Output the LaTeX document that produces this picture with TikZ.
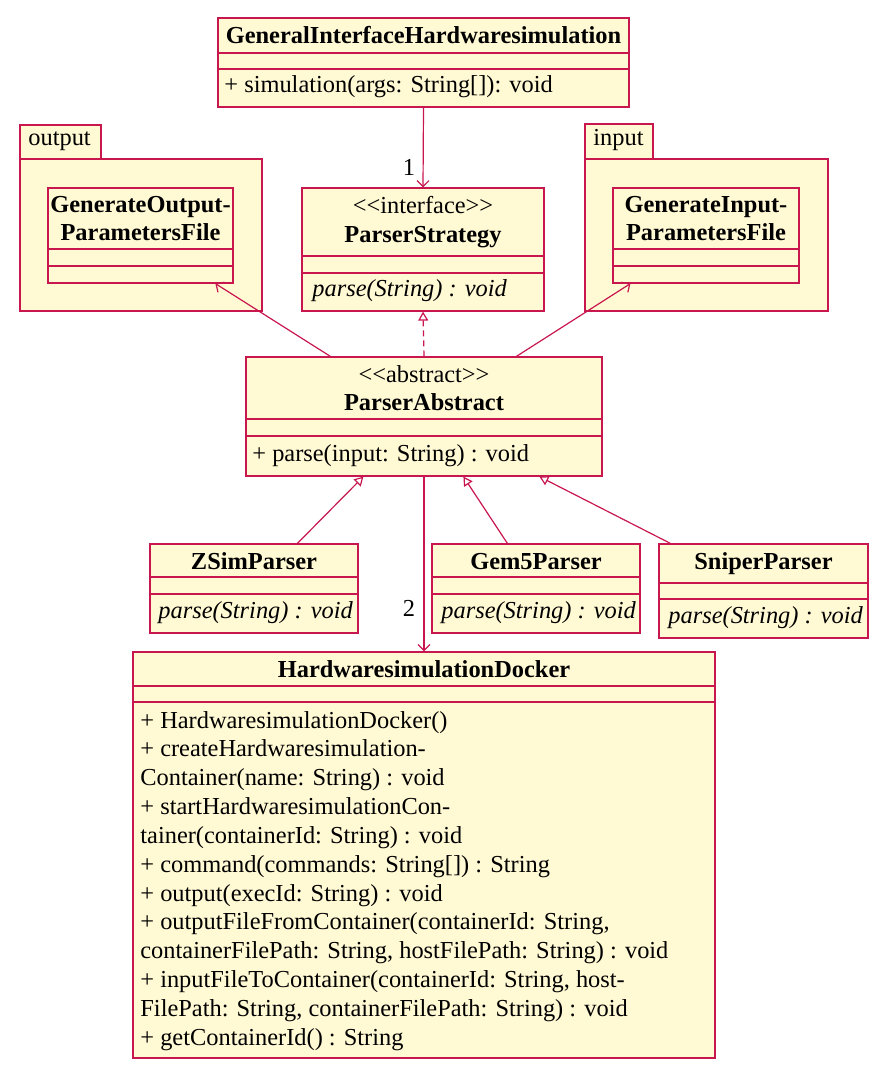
\documentclass[tikz,border=0pt]{standalone}
\usepackage{fontspec}
\setmainfont{Liberation Serif}
\usetikzlibrary{arrows.meta,fit,calc}
\definecolor{umlred}{HTML}{C8174F}
\definecolor{umlfill}{HTML}{FFF9D4}
\newcommand{\lguil}{<\kern0pt<}
\newcommand{\rguil}{>\kern0pt>}
\tikzset{
  umlbox/.style={draw=umlred, fill=umlfill, line width=0.6pt, inner sep=0pt, rectangle},
  sepline/.style={draw=umlred, line width=0.6pt},
  txt/.style={inner sep=0pt, font=\fontsize{12.2}{14}\selectfont},
  ctxt/.style={txt, anchor=base},
  ltxt/.style={txt, anchor=base west},
  btxt/.style={inner sep=0pt, anchor=base, font=\fontsize{12.2}{14}\selectfont\bfseries},
  itxt/.style={inner sep=0pt, anchor=base west, font=\fontsize{12.2}{14}\selectfont\itshape},
  assoc/.style={draw=umlred, line width=0.6pt, -{Straight Barb[length=3pt,width=6pt]}},
  gen/.style={draw=umlred, line width=0.6pt, -{Triangle[open,length=4.5pt,width=5pt,fill=white]}},
  real/.style={gen, dash pattern=on 3pt off 2pt},
}
\begin{document}
\begin{tikzpicture}[x=0.5pt,y=-0.5pt]
\useasboundingbox (0,0) rectangle (882,1081);

% GeneralInterfaceHardwaresimulation
\node[umlbox, fit={(218,18)(629,107)}] (gih) {};
\draw[sepline] (218,53) -- (629,53);
\draw[sepline] (218,69) -- (629,69);
\node[btxt] (gihT) at (423.5,44) {GeneralInterfaceHardwaresimulation};
\node[ltxt] (gihM) at (224,93) {+ simulation(args: String[]): void};

% output package
\node[umlbox, fit={(20,125)(101,159)}] (outtab) {};
\node[umlbox, fit={(20,159)(262,311)}] (outpkg) {};
\node[ltxt] (outT) at (28,146) {output};
\node[umlbox, fit={(48,188)(233,283)}] (gop) {};
\draw[sepline] (48,249) -- (233,249);
\draw[sepline] (48,266) -- (233,266);
\node[btxt] (gopT1) at (140.5,212) {GenerateOutput-};
\node[btxt] (gopT2) at (140.5,240) {ParametersFile};

% input package
\node[umlbox, fit={(585,124)(653,159)}] (intab) {};
\node[umlbox, fit={(585,159)(828,311)}] (inpkg) {};
\node[ltxt] (inT) at (593,146) {input};
\node[umlbox, fit={(613,188)(799,283)}] (gip) {};
\draw[sepline] (613,249) -- (799,249);
\draw[sepline] (613,266) -- (799,266);
\node[btxt] (gipT1) at (706,212) {GenerateInput-};
\node[btxt] (gipT2) at (706,240) {ParametersFile};

% ParserStrategy
\node[umlbox, fit={(302,188)(544,311)}] (ps) {};
\draw[sepline] (302,256) -- (544,256);
\draw[sepline] (302,273) -- (544,273);
\node[ctxt] (psS) at (423,213) {\lguil interface\rguil};
\node[btxt] (psT) at (423,242) {ParserStrategy};
\node[itxt] (psM) at (312,296) {parse(String) : void};

% ParserAbstract
\node[umlbox, fit={(246,357)(602,476)}] (pa) {};
\draw[sepline] (246,419) -- (602,419);
\draw[sepline] (246,436) -- (602,436);
\node[ctxt] (paS) at (424,382) {\lguil abstract\rguil};
\node[btxt] (paT) at (424,410) {ParserAbstract};
\node[ltxt] (paM) at (252,461) {+ parse(input: String) : void};

% ZSimParser
\node[umlbox, fit={(150,544)(358,633)}] (zs) {};
\draw[sepline] (150,577) -- (358,577);
\draw[sepline] (150,594) -- (358,594);
\node[btxt] (zsT) at (254,569) {ZSimParser};
\node[itxt] (zsM) at (158,618) {parse(String) : void};

% Gem5Parser
\node[umlbox, fit={(432,544)(640,633)}] (g5) {};
\draw[sepline] (432,577) -- (640,577);
\draw[sepline] (432,594) -- (640,594);
\node[btxt] (g5T) at (536,569) {Gem5Parser};
\node[itxt] (g5M) at (441,618) {parse(String) : void};

% SniperParser
\node[umlbox, fit={(659,544)(868,638)}] (sp) {};
\draw[sepline] (659,583) -- (868,583);
\draw[sepline] (659,599) -- (868,599);
\node[btxt] (spT) at (763.5,569) {SniperParser};
\node[itxt] (spM) at (668,623) {parse(String) : void};

% HardwaresimulationDocker
\node[umlbox, fit={(133,652)(715,1058)}] (hw) {};
\draw[sepline] (133,686) -- (715,686);
\draw[sepline] (133,702) -- (715,702);
\node[btxt] (hwT) at (424,677) {HardwaresimulationDocker};
\foreach \t [count=\i from 0] in {
  {+ HardwaresimulationDocker()},
  {+ createHardwaresimulation-},
  {Container(name: String) : void},
  {+ startHardwaresimulationCon-},
  {tainer(containerId: String) : void},
  {+ command(commands: String[]) : String},
  {+ output(execId: String) : void},
  {+ outputFileFromContainer(containerId: String,},
  {containerFilePath: String, hostFilePath: String) : void},
  {+ inputFileToContainer(containerId: String, host-},
  {FilePath: String, containerFilePath: String) : void},
  {+ getContainerId() : String}}
  \node[ltxt] (hwM\i) at (140,728+\i*28.85) {\t};

% connectors
\draw[assoc] (gih.south) -- (ps.north);
\node[ctxt] (lab1) at (409,175) {1};
\draw[real] (pa.north) -- (ps.south);
\draw[assoc] ($(pa.north west)+(85,0)$) -- ($(gop.south west)+(168,0)$);
\draw[assoc] ($(pa.north west)+(271,0)$) -- ($(gip.south west)+(18,0)$);
\draw[gen] ($(zs.north west)+(148,0)$) -- ($(pa.south west)+(118,0)$);
\draw[gen] ($(g5.north west)+(76,0)$) -- ($(pa.south west)+(218,0)$);
\draw[gen] ($(sp.north west)+(12,0)$) -- ($(pa.south west)+(294,0)$);
\draw[assoc] (pa.south) -- (hw.north);
\node[ctxt] (lab2) at (409,616) {2};
\end{tikzpicture}
\end{document}
